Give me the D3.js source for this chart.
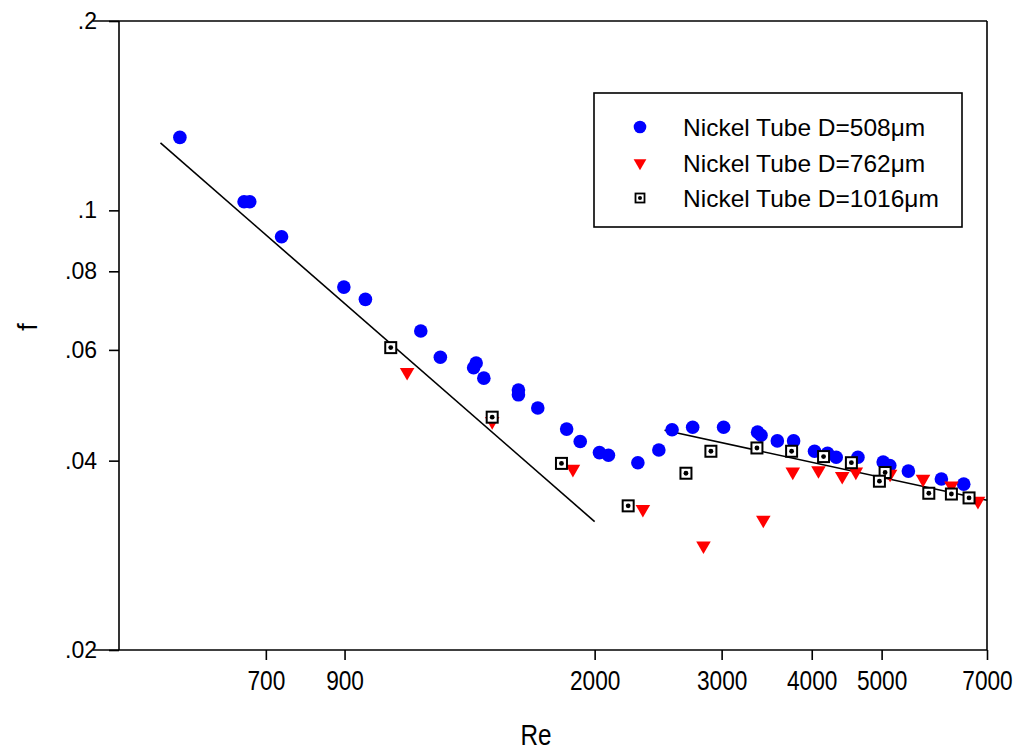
<!DOCTYPE html>
<html>
<head>
<meta charset="utf-8">
<script src="https://cdn.jsdelivr.net/npm/d3@7"></script>
<style>
  html, body { margin: 0; padding: 0; background: #fff; }
  svg { display: block; font-family: "Liberation Sans", Arial, sans-serif; }
</style>
</head>
<body>
<svg id="chart" width="1021" height="753"></svg>
<script>
// ---- Data ----
const reBlue = [532, 653, 665, 736, 898, 962, 1148, 1222, 1370, 1359, 1404, 1568, 1568, 1668, 1829, 1910, 2031, 2090, 2296, 2455, 2561, 2735, 3019, 3365, 3402, 3584, 3775, 4036, 4207, 4325, 4636, 5025, 5132, 5446, 6051, 6499];
const fBlue  = [0.1306, 0.1032, 0.1032, 0.0908, 0.0755, 0.0722, 0.0643, 0.0584, 0.0572, 0.0562, 0.0541, 0.0518, 0.0509, 0.0485, 0.0449, 0.0429, 0.0412, 0.0408, 0.0397, 0.0416, 0.0448, 0.0452, 0.0452, 0.0444, 0.0439, 0.0430, 0.0430, 0.0414, 0.0411, 0.0405, 0.0405, 0.0398, 0.0393, 0.0385, 0.0374, 0.0367];

const reRed = [1099, 1442, 1866, 2333, 2831, 3427, 3765, 4087, 4409, 4605, 5137, 5707, 6248, 6801];
const fRed  = [0.0553, 0.0462, 0.0388, 0.0335, 0.0293, 0.0322, 0.0384, 0.0386, 0.0378, 0.0384, 0.0381, 0.0374, 0.0365, 0.0345];

const reBlack = [1043, 1442, 1799, 2226, 2677, 2899, 3358, 3751, 4154, 4540, 5056, 4965, 5813, 6248, 6610];
const fBlack  = [0.0605, 0.0469, 0.0396, 0.0339, 0.0382, 0.0414, 0.0419, 0.0414, 0.0406, 0.0397, 0.0383, 0.0371, 0.0355, 0.0354, 0.0349];

// reference lines (end points)
const reLaminar = [500, 2000];
const fLaminar  = [0.128, 0.032];
const reTurb = [2500, 7000];
const fTurb  = [0.0447, 0.0346];

const xTicks = [700, 900, 2000, 3000, 4000, 5000, 7000];
const yTicks = [0.02, 0.04, 0.06, 0.08, 0.1, 0.2];
const seriesNames = ["Nickel Tube D=508\u03bcm", "Nickel Tube D=762\u03bcm", "Nickel Tube D=1016\u03bcm"];

// ---- Chart ----
const svg = d3.select("#chart");
const L = 119, R = 987, T = 21, B = 650;
const x = d3.scaleLog().domain([438, 7000]).range([L, R]);
const y = d3.scaleLog().domain([0.02, 0.2]).range([B, T]);

// frame
const frame = svg.append("g").attr("stroke", "#000").attr("stroke-width", 1.6).attr("fill", "none");
frame.append("line").attr("x1", 93).attr("x2", R).attr("y1", T).attr("y2", T);
frame.append("line").attr("x1", 93).attr("x2", R).attr("y1", B).attr("y2", B);
frame.append("line").attr("x1", L).attr("x2", L).attr("y1", T).attr("y2", B);
frame.append("line").attr("x1", R).attr("x2", R).attr("y1", T).attr("y2", B);

// x axis
const xAxis = svg.append("g").attr("transform", `translate(0,${B})`)
  .call(d3.axisBottom(x).tickValues(xTicks).tickFormat(d3.format("d")).tickSize(10).tickPadding(10));
xAxis.select(".domain").remove();
xAxis.selectAll(".tick line").attr("stroke", "#000").attr("stroke-width", 1.6);
xAxis.selectAll(".tick text")
  .attr("font-size", 28).attr("fill", "#000")
  .attr("font-family", "Liberation Sans, Arial, sans-serif")
  .attr("transform", "scale(0.81,1)");

// y axis
const yAxis = svg.append("g").attr("transform", `translate(${L},0)`)
  .call(d3.axisLeft(y).tickValues(yTicks)
    .tickFormat(d => d3.format(".2~f")(d).replace(/^0/, ""))
    .tickSize(10).tickPadding(12));
yAxis.select(".domain").remove();
yAxis.selectAll(".tick line").attr("stroke", "#000").attr("stroke-width", 1.6);
yAxis.selectAll(".tick text").attr("font-size", 23).attr("fill", "#000")
  .attr("font-family", "Liberation Sans, Arial, sans-serif");

// axis titles
svg.append("text").attr("x", 0).attr("y", 0)
  .attr("transform", `translate(${(L + R) / 2 - 17},745) scale(0.81,1)`)
  .attr("text-anchor", "middle").attr("font-size", 30).text("Re");
svg.append("text")
  .attr("transform", "translate(37,327) rotate(-90)")
  .attr("text-anchor", "middle").attr("font-size", 27).text("f");

// reference lines
const line = d3.line().x(d => x(d[0])).y(d => y(d[1]));
svg.append("path").datum(reLaminar.map((r, i) => [r, fLaminar[i]]))
  .attr("d", line).attr("stroke", "#000").attr("stroke-width", 1.6).attr("fill", "none");
svg.append("path").datum(reTurb.map((r, i) => [r, fTurb[i]]))
  .attr("d", line).attr("stroke", "#000").attr("stroke-width", 1.6).attr("fill", "none");

// markers
const tri = d3.symbol().type(d3.symbolTriangle).size(92);
const triSmall = d3.symbol().type(d3.symbolTriangle).size(70);

svg.append("g").selectAll("circle").data(reBlue.map((r, i) => [r, fBlue[i]])).join("circle")
  .attr("cx", d => x(d[0])).attr("cy", d => y(d[1])).attr("r", 6.8).attr("fill", "#0000ff");

svg.append("g").selectAll("path").data(reRed.map((r, i) => [r, fRed[i]])).join("path")
  .attr("d", tri).attr("fill", "#ff0000")
  .attr("transform", d => `translate(${x(d[0])},${y(d[1])}) rotate(180)`);

const sq = svg.append("g").selectAll("g").data(reBlack.map((r, i) => [r, fBlack[i]])).join("g")
  .attr("transform", d => `translate(${x(d[0])},${y(d[1])})`);
sq.append("rect").attr("x", -5.5).attr("y", -5.5).attr("width", 11).attr("height", 11)
  .attr("fill", "#fff").attr("stroke", "#000").attr("stroke-width", 2);
sq.append("circle").attr("r", 2.4).attr("fill", "#000");

// legend
const lg = svg.append("g");
lg.append("rect").attr("x", 594).attr("y", 93).attr("width", 368).attr("height", 134)
  .attr("fill", "#fff").attr("stroke", "#000").attr("stroke-width", 1.6);
const rows = [127, 163, 198];
lg.append("circle").attr("cx", 640).attr("cy", rows[0]).attr("r", 6.3).attr("fill", "#0000ff");
lg.append("path").attr("d", triSmall).attr("fill", "#ff0000")
  .attr("transform", `translate(640,${rows[1]}) rotate(180)`);
lg.append("rect").attr("x", 635.5).attr("y", rows[2] - 4.5).attr("width", 9).attr("height", 9)
  .attr("fill", "#fff").attr("stroke", "#000").attr("stroke-width", 1.8);
lg.append("circle").attr("cx", 640).attr("cy", rows[2]).attr("r", 2).attr("fill", "#000");
seriesNames.forEach((s, i) => {
  lg.append("text").attr("x", 683).attr("y", rows[i]).attr("dy", "0.35em")
    .attr("font-size", 24.5).attr("fill", "#000").text(s);
});
</script>
</body>
</html>
